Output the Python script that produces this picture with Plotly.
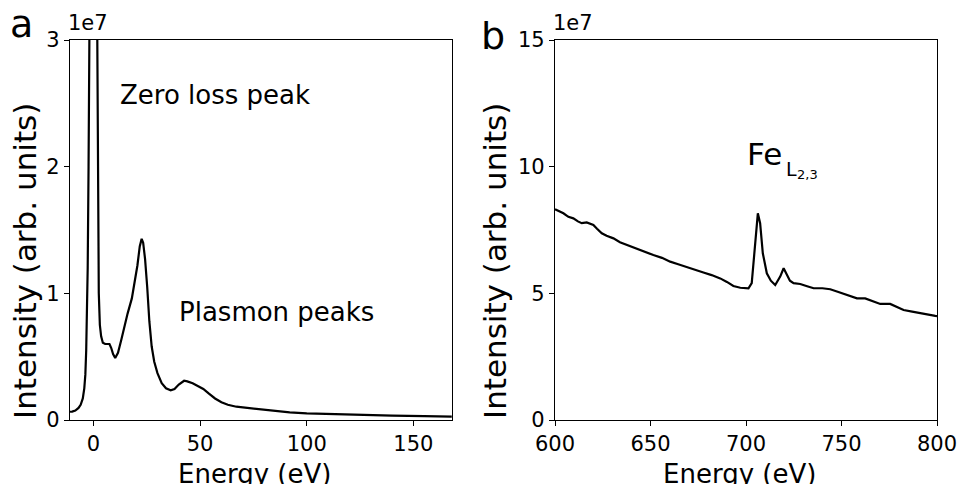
import plotly.graph_objects as go

# ---------------- data (intensity in units of 1e7) ----------------
low_energy_ev = [-11, -10, -8.5, -7, -6, -5, -4.3, -3.8, -3.4, -3.0, -2.7, -2.3, -2.0, -1.0, 0.0,
                 1.0, 1.8, 2.0, 2.5, 3.0, 3.6, 4.4, 5.5, 6.5, 7.5, 8.3, 9.2, 10.2, 11.5, 13.0,
                 14.5, 16.0, 18.0, 19.5, 20.6, 21.7, 22.6, 23.3, 24.2, 25.2, 26.2, 27.3, 28.5,
                 30.0, 32.0, 34.0, 36.2, 38.0, 40.0, 42.5, 44.0, 46.5, 49.0, 51.5, 54.0, 57.0,
                 60.0, 63.0, 67.0, 72.0, 78.0, 85.0, 92.0, 100.0, 110.0, 125.0, 140.0, 155.0, 168.0]
low_intensity = [0.065, 0.066, 0.075, 0.095, 0.12, 0.17, 0.25, 0.36, 0.55, 0.85, 1.2, 2.0, 3.0, 6.0, 8.0,
                 6.0, 3.0, 2.0, 1.0, 0.75, 0.66, 0.61, 0.60, 0.60, 0.60, 0.57, 0.52, 0.49, 0.53, 0.63,
                 0.74, 0.84, 0.96, 1.10, 1.22, 1.37, 1.43, 1.40, 1.27, 1.05, 0.78, 0.58, 0.46,
                 0.37, 0.29, 0.25, 0.235, 0.245, 0.28, 0.31, 0.305, 0.29, 0.27, 0.245, 0.21, 0.17,
                 0.14, 0.12, 0.105, 0.095, 0.083, 0.07, 0.06, 0.053, 0.047, 0.04, 0.034, 0.03, 0.026]

core_energy_ev = [600, 602, 604.4, 607, 609.6, 612, 614, 616.6, 618.5, 620.1, 622, 624.5, 627, 630.6,
                  634, 637.6, 640, 642.8, 647, 651.5, 656, 660.3, 664.5, 669, 673, 677.7, 682, 686.5,
                  690, 693.4, 697, 701.3, 703, 704.8, 706.2, 707.4, 708.8, 710.9, 713, 715.3, 717.9,
                  719.7, 721.4, 723, 724.9, 728.4, 732, 735.4, 740, 744.1, 748, 752.8, 758.1, 762.4,
                  766, 770.3, 775.5, 779, 782.5, 787, 791.3, 795, 799.1, 800]
core_intensity = [8.32, 8.25, 8.16, 8.02, 7.96, 7.84, 7.77, 7.80, 7.76, 7.70, 7.55, 7.37, 7.27, 7.17,
                  7.02, 6.91, 6.85, 6.78, 6.62, 6.51, 6.40, 6.25, 6.15, 6.03, 5.93, 5.82, 5.72, 5.59,
                  5.45, 5.29, 5.22, 5.20, 5.40, 6.84, 8.16, 7.77, 6.58, 5.79, 5.50, 5.33, 5.66,
                  5.99, 5.72, 5.50, 5.40, 5.37, 5.28, 5.20, 5.20, 5.16, 5.06, 4.93, 4.80, 4.80,
                  4.70, 4.58, 4.58, 4.45, 4.34, 4.28, 4.21, 4.16, 4.11, 4.10]

left_xticks = [0, 50, 100, 150]
left_yticks = [0, 1, 2, 3]
right_xticks = [600, 650, 700, 750, 800]
right_yticks = [0, 5, 10, 15]

# ---------------- layout helpers ----------------
W, H = 960, 484
FONT = "DejaVu Sans"


def px(x):
    return x / W


def py(y):
    return 1 - y / H


fig = go.Figure()
fig.add_trace(go.Scatter(x=low_energy_ev, y=low_intensity, mode="lines",
                         line=dict(color="black", width=2.2), xaxis="x", yaxis="y",
                         showlegend=False))
fig.add_trace(go.Scatter(x=core_energy_ev, y=core_intensity, mode="lines",
                         line=dict(color="black", width=2.2), xaxis="x2", yaxis="y2",
                         showlegend=False))

axis_common = dict(showline=True, linecolor="black", linewidth=1.2, mirror=True,
                   ticks="outside", ticklen=5, tickwidth=1.2, tickcolor="black",
                   showgrid=False, zeroline=False,
                   tickfont=dict(family=FONT, size=21, color="black"),
                   automargin=False)

fig.update_layout(
    width=W, height=H,
    margin=dict(l=0, r=0, t=0, b=0),
    paper_bgcolor="white", plot_bgcolor="white",
    font=dict(family=FONT, color="black"),
    xaxis=dict(domain=[px(70), px(452)], range=[-11, 168.1], tickvals=left_xticks,
               anchor="y", **axis_common),
    yaxis=dict(domain=[py(420), py(40)], range=[0, 3], tickvals=left_yticks,
               anchor="x", **axis_common),
    xaxis2=dict(domain=[px(555), px(937)], range=[600, 800], tickvals=right_xticks,
                anchor="y2", **axis_common),
    yaxis2=dict(domain=[py(420), py(40)], range=[0, 15], tickvals=right_yticks,
                anchor="x2", **axis_common),
)

ann = []


def text(x, y, s, size, xanchor="center", yanchor="middle", angle=0):
    ann.append(dict(x=px(x), y=py(y), xref="paper", yref="paper", text=s, showarrow=False,
                    font=dict(family=FONT, size=size, color="black"),
                    xanchor=xanchor, yanchor=yanchor, textangle=angle))


# panel letters
text(21, 24, "a", 38)
text(493, 36, "b", 38)
# offset multipliers
text(66, 23, "1e7", 21, xanchor="left")
text(551, 23, "1e7", 21, xanchor="left")
# axis titles
text(254, 474, "Energy (eV)", 26)
text(739, 474, "Energy (eV)", 26)
text(25, 261, "Intensity (arb. units)", 31, angle=-90)
text(495, 261, "Intensity (arb. units)", 31, angle=-90)
# in-plot labels
text(118, 95, "Zero loss peak", 26, xanchor="left")
text(177, 312, "Plasmon peaks", 26, xanchor="left")
text(745, 154, "Fe", 31, xanchor="left")
text(784, 169, "L", 19, xanchor="left")
text(795, 175, "2,3", 13, xanchor="left")

fig.update_layout(annotations=ann)
fig.write_html("out.html",
               config={"displayModeBar": False},
               post_script="document.body.style.margin='0';document.body.style.overflow='hidden';")
